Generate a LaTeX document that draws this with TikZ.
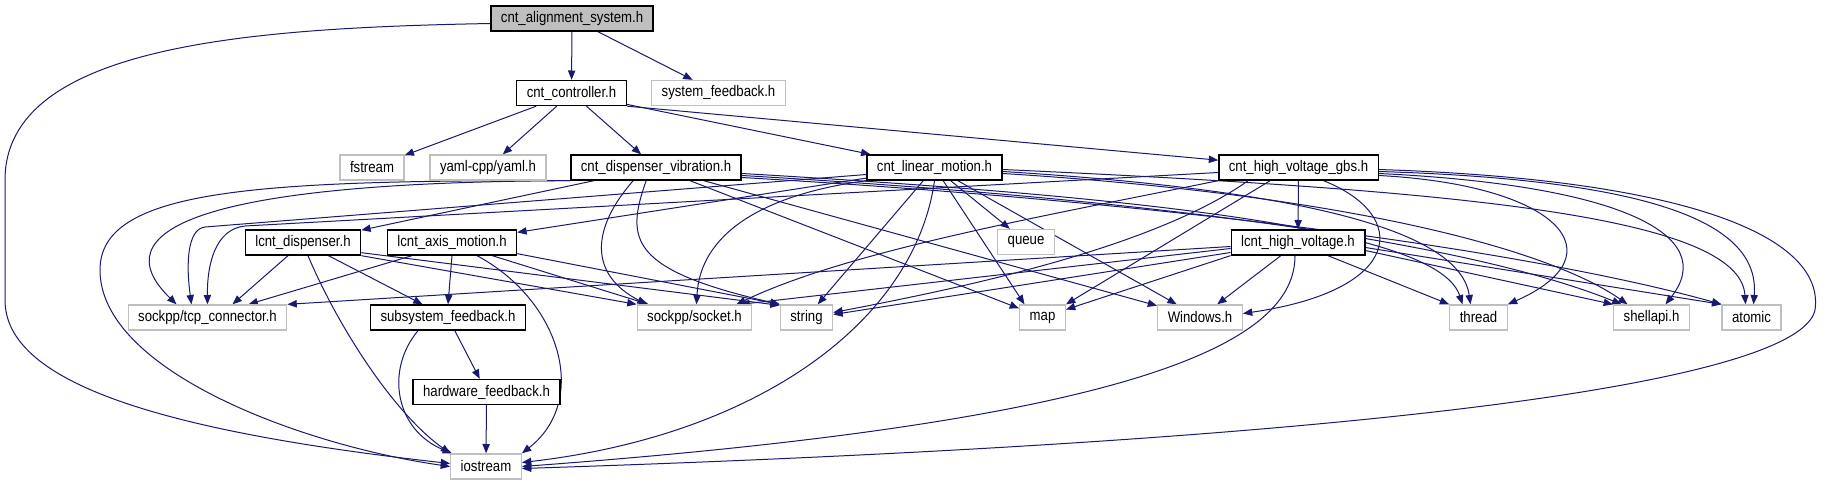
\documentclass[tikz,border=0pt]{standalone}
\usepackage{fontspec}
\setmainfont{Liberation Sans}[FakeStretch=0.86]
\usetikzlibrary{
    arrows.meta,
    calc
}
\pgfdeclarelayer{paper}
\pgfdeclarelayer{edges}
\pgfsetlayers{paper,edges,main}
\definecolor{edgeblue}{HTML}{191970}
\definecolor{extgray}{HTML}{BFBFBF}
\tikzstyle{hdrbox} = [
    draw=black,
    line width=1pt,
    fill=white,
    minimum height=18.75pt,
    inner xsep=7.5pt,
    inner ysep=0pt,
    font=\fontsize{11.5}{13}\selectfont
]
\tikzstyle{extbox} = [
    hdrbox,
    draw=extgray
]
\tikzstyle{mainbox} = [
    hdrbox,
    fill=extgray
]
\tikzstyle{incl} = [
    -{Triangle[length=7pt,width=5.5pt]},
    draw=edgeblue,
    line width=0.75pt
]

\begin{document}
\begin{tikzpicture}[x=0.75pt, y=-0.75pt]
    \begin{pgfonlayer}{paper}
        \fill[white] (0,0) rectangle (1824,485);
    \end{pgfonlayer}
    \useasboundingbox (0,0) rectangle (1824,485);

    % Headers of the project
    \node[mainbox] (sys) at (572,18.5) {cnt\_alignment\_system.h};
    \node[hdrbox] (ctrl) at (571.5,93) {cnt\_controller.h};
    \node[hdrbox] (dvib) at (656,167.5) {cnt\_dispenser\_vibration.h};
    \node[hdrbox] (lin) at (934.5,167.5) {cnt\_linear\_motion.h};
    \node[hdrbox] (hvgbs) at (1298.5,167.5) {cnt\_high\_voltage\_gbs.h};
    \node[hdrbox] (ldisp) at (303,242.5) {lcnt\_dispenser.h};
    \node[hdrbox] (laxis) at (452,242.5) {lcnt\_axis\_motion.h};
    \node[hdrbox] (lhv) at (1298,242.5) {lcnt\_high\_voltage.h};
    \node[hdrbox] (subfb) at (448,317.5) {subsystem\_feedback.h};
    \node[hdrbox] (hwfb) at (486.5,392) {hardware\_feedback.h};

    % External headers
    \node[extbox] (sysfb) at (718.5,93) {system\_feedback.h};
    \node[extbox] (fstream) at (372,167.5) {fstream};
    \node[extbox] (yaml) at (488,167.5) {yaml-cpp/yaml.h};
    \node[extbox] (queue) at (1026,242) {queue};
    \node[extbox] (tcp) at (207.5,317.5) {sockpp/tcp\_connector.h};
    \node[extbox] (sock) at (694.5,317.5) {sockpp/socket.h};
    \node[extbox] (str) at (806.5,317.5) {string};
    \node[extbox] (map) at (1042.5,317.5) {map};
    \node[extbox] (win) at (1200,317.5) {Windows.h};
    \node[extbox] (thread) at (1478.5,317.5) {thread};
    \node[extbox] (shell) at (1651.5,317.5) {shellapi.h};
    \node[extbox] (atomic) at (1751.5,317.5) {atomic};
    \node[extbox] (iostr) at (486,466.5) {iostream};

    \begin{pgfonlayer}{edges}
    % cnt_alignment_system.h
    \draw[incl] (sys) -- (ctrl);
    \draw[incl] (sys) -- (sysfb);
    \draw[incl] ($(sys.west)+(0,5)$) .. controls (250,28) and (5,45) .. (5,180) -- (5,300)
        .. controls (5,380) and (150,430) .. ($(iostr.west)+(0,-3)$);

    % cnt_controller.h
    \draw[incl] (ctrl) -- (fstream);
    \draw[incl] (ctrl) -- (yaml);
    \draw[incl] (ctrl) -- (dvib);
    \draw[incl] (ctrl) -- (lin);
    \draw[incl] (ctrl.south east) -- (hvgbs);

    % cnt_dispenser_vibration.h
    \draw[incl] (dvib) -- (ldisp);
    \draw[incl] (dvib.south west) .. controls (200,182) and (100,230) .. ($(tcp.north)+(-31,0)$);
    \draw[incl] (dvib.south west) .. controls (250,180) and (100,190) .. (100,270)
        .. controls (100,370) and (300,445) .. (iostr.west);
    \draw[incl] ($(dvib.south west)+(63,0)$) .. controls (590,230) and (590,275) .. ($(sock.north west)+(10,0)$);
    \draw[incl] ($(dvib.south west)+(76,0)$) .. controls (625,240) and (630,270) .. (str.north west);
    \draw[incl] (dvib) -- (map);
    \draw[incl] (dvib) -- (win);
    \draw[incl] ($(dvib.east)+(0,6)$) .. controls (1200,200) and (1440,235) .. ($(thread.north)+(-16,0)$);
    \draw[incl] ($(dvib.east)+(0,8)$) .. controls (1250,205) and (1500,255) .. ($(shell.north)+(-30,0)$);
    \draw[incl] ($(dvib.east)+(0,10)$) .. controls (1300,210) and (1600,270) .. (atomic.north west);

    % cnt_linear_motion.h
    \draw[incl] (lin) -- (laxis);
    \draw[incl] ($(lin.west)+(0,7)$) -- (205,227) .. controls (187,229) and (186,265) .. ($(tcp.north)+(-16,0)$);
    \draw[incl] (lin.south west) .. controls (760,195) and (700,235) .. ($(sock.north)+(2,0)$);
    \draw[incl] (lin) -- (str);
    \draw[incl] (lin.south) .. controls (915,320) and (760,435) .. ($(iostr.east)+(0,-4)$);
    \draw[incl] (lin) -- ($(map.north)+(-18,0)$);
    \draw[incl] (lin) -- (queue);
    \draw[incl] (lin) -- (win);
    \draw[incl] ($(lin.east)+(0,4)$) .. controls (1300,190) and (1460,230) .. ($(thread.north)+(-8,0)$);
    \draw[incl] ($(lin.east)+(0,6)$) .. controls (1350,195) and (1550,250) .. ($(shell.north)+(-24,0)$);
    \draw[incl] ($(lin.east)+(0,2)$) .. controls (1450,190) and (1740,215) .. ($(atomic.north)+(-6,0)$);

    % cnt_high_voltage_gbs.h
    \draw[incl] (hvgbs) -- (lhv);
    \draw[incl] ($(hvgbs.west)+(0,5)$) -- (245,226) .. controls (215,229) and (207,265) .. (tcp.north);
    \draw[incl] (hvgbs.south west) .. controls (1050,215) and (850,250) .. ($(sock.north east)+(-16,0)$);
    \draw[incl] ($(hvgbs.south west)+(30,0)$) .. controls (1150,250) and (950,290) .. ($(str.east)+(0,-5)$);
    \draw[incl] ($(hvgbs.south west)+(52,0)$) -- (map.north east);
    \draw[incl] ($(hvgbs.south)+(25,0)$) .. controls (1410,215) and (1405,290) .. ($(win.east)+(0,-4)$);
    \draw[incl] ($(hvgbs.east)+(0,8)$) .. controls (1560,185) and (1620,255) .. (thread.north east);
    \draw[incl] ($(hvgbs.east)+(0,6)$) .. controls (1620,185) and (1720,235) .. ($(shell.north)+(14,0)$);
    \draw[incl] ($(hvgbs.east)+(0,4)$) .. controls (1660,180) and (1760,225) .. ($(atomic.north)+(2,0)$);
    \draw[incl] ($(hvgbs.east)+(0,2)$) .. controls (1700,180) and (1825,240) .. (1815,310)
        .. controls (1800,380) and (1400,440) .. ($(iostr.east)+(0,2)$);

    % lcnt_high_voltage.h
    \draw[incl] ($(lhv.west)+(0,4)$) -- (tcp.north east);
    \draw[incl] ($(lhv.west)+(0,6)$) -- ($(sock.north east)+(-12,0)$);
    \draw[incl] ($(lhv.west)+(0,10)$) -- ($(str.east)+(0,-3)$);
    \draw[incl] (lhv.south west) -- ($(map.east)+(0,-8)$);
    \draw[incl] (lhv) -- (win);
    \draw[incl] ($(lhv.south)+(-3,0)$) .. controls (1295,340) and (1150,420) .. (iostr.east);
    \draw[incl] ($(lhv.south)+(30,0)$) -- (thread.north west);
    \draw[incl] ($(lhv.east)+(0,8)$) -- (shell.north west);
    \draw[incl] ($(lhv.east)+(0,5)$) -- (atomic.north west);

    % lcnt_dispenser.h
    \draw[incl] ($(ldisp.south)+(-15,0)$) -- ($(tcp.north)+(25,0)$);
    \draw[incl] ($(ldisp.south)+(5,0)$) .. controls (335,320) and (390,410) .. (iostr.north west);
    \draw[incl] (ldisp) -- (subfb);
    \draw[incl] (ldisp.south east) -- (sock.north west);
    \draw[incl] ($(ldisp.south east)+(0,-3)$) -- ($(str.north west)+(0,1)$);

    % lcnt_axis_motion.h
    \draw[incl] ($(laxis.south)+(-40,0)$) -- ($(tcp.north)+(41,0)$);
    \draw[incl] (laxis.south) -- (subfb.north);
    \draw[incl] ($(laxis.south)+(25,0)$) .. controls (560,300) and (590,400) .. (iostr.north east);
    \draw[incl] ($(laxis.south east)+(-25,0)$) -- ($(sock.north west)+(12,0)$);
    \draw[incl] ($(laxis.south east)+(0,-2)$) -- (str.north west);

    % subsystem_feedback.h
    \draw[incl] ($(subfb.south)+(-30,0)$) .. controls (385,370) and (395,430) .. ($(iostr.north west)+(2,0)$);
    \draw[incl] (subfb) -- (hwfb);
    \draw[incl] (hwfb) -- (iostr);
    \end{pgfonlayer}
\end{tikzpicture}
\end{document}
